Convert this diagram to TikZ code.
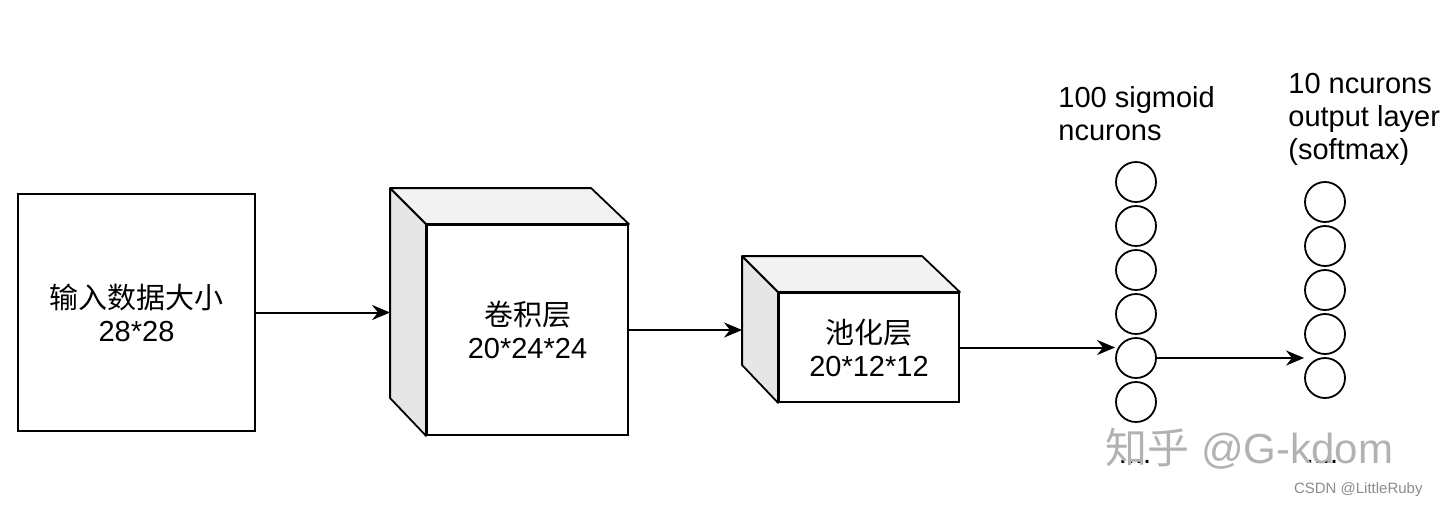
\documentclass[tikz,border=0pt]{standalone}
\usepackage{fontspec}
\setmainfont{Liberation Sans}
\newfontfamily\cjk{Noto Sans CJK SC}
\usepackage{tikz}
\usetikzlibrary{arrows.meta,positioning}
\definecolor{sidegray}{HTML}{E6E6E6}
\definecolor{topgray}{HTML}{F2F2F2}

\begin{document}
\begin{tikzpicture}[
  x=0.5pt, y=-0.5pt,
  font=\fontsize{14.5}{16.5}\selectfont,
  node distance=1.1pt,
  box/.style={draw, fill=white, line width=0.9pt, inner sep=0pt, align=center},
  sideface/.style={draw, fill=sidegray, line width=0.9pt, line join=round},
  topface/.style={draw, fill=topgray, line width=0.9pt, line join=round},
  neuron/.style={draw, circle, minimum size=20pt, inner sep=0pt, line width=0.9pt},
  lbl/.style={align=left, inner sep=0pt, anchor=base west},
  wmtext/.style={text=black!30, font=\fontsize{21}{24}\selectfont, inner sep=0pt, anchor=base west},
  csdn/.style={text=black!45, font=\fontsize{7.5}{9}\selectfont, inner sep=0pt, anchor=base east},
  ar/.style={-{Stealth[length=9pt, width=7.5pt]}, line width=1pt}
]
\useasboundingbox (0,0) rectangle (1440,505);

\node[box, minimum width=118.5pt, minimum height=118.5pt] (inp) at (136.5,312.5) {{\cjk 输入数据大小}\\28*28};

% conv cube
\node[box, minimum width=100.5pt, minimum height=105pt] (conv) at (527.5,330) {{\cjk 卷积层}\\20*24*24};
\draw[sideface] (conv.north west) -- ++(-36,-36) coordinate (convbk) -- ++(0,210) -- (conv.south west) -- cycle;
\draw[topface] (conv.north west) -- ++(-36,-36) -- ++(201,0) -- (conv.north east) -- cycle;

% pooling cube
\node[box, minimum width=90pt, minimum height=54.5pt] (pool) at (869,347.5) {{\cjk 池化层}\\20*12*12};
\draw[sideface] (pool.north west) -- ++(-36,-36) coordinate (poolbk) -- ++(0,109) -- (pool.south west) -- cycle;
\draw[topface] (pool.north west) -- ++(-36,-36) -- ++(180,0) -- (pool.north east) -- cycle;

% hidden layer
\node[neuron] (h1) at (1136,182) {};
\node[neuron, below=of h1] (h2) {};
\node[neuron, below=of h2] (h3) {};
\node[neuron, below=of h3] (h4) {};
\node[neuron, below=of h4] (h5) {};
\node[neuron, below=of h5] (h6) {};
\node[anchor=base] (hdots) at (1135,463) {....};
\node[lbl] (hlbl) at (1058,140) {100 sigmoid\\ncurons};

% output layer
\node[neuron] (o1) at (1325,202) {};
\node[neuron, below=of o1] (o2) {};
\node[neuron, below=of o2] (o3) {};
\node[neuron, below=of o3] (o4) {};
\node[neuron, below=of o4] (o5) {};
\node[anchor=base] (odots) at (1322,463) {....};
\node[lbl] (olbl) at (1288,159) {10 ncurons\\output layer\\(softmax)};

\draw[ar] (inp.east) -- (inp.east -| convbk);
\draw[ar] (conv.east) -- (conv.east -| poolbk);
\draw[ar] (pool.east) -- (pool.east -| h5.west);
\draw[ar] (h5.east) -- (h5.east -| o1.west);

% watermarks
\node[wmtext] (zh) at (1105,463) {{\cjk 知乎} @G-kdom};
\node[csdn] (src) at (1423,493) {CSDN @LittleRuby};

\end{tikzpicture}
\end{document}
